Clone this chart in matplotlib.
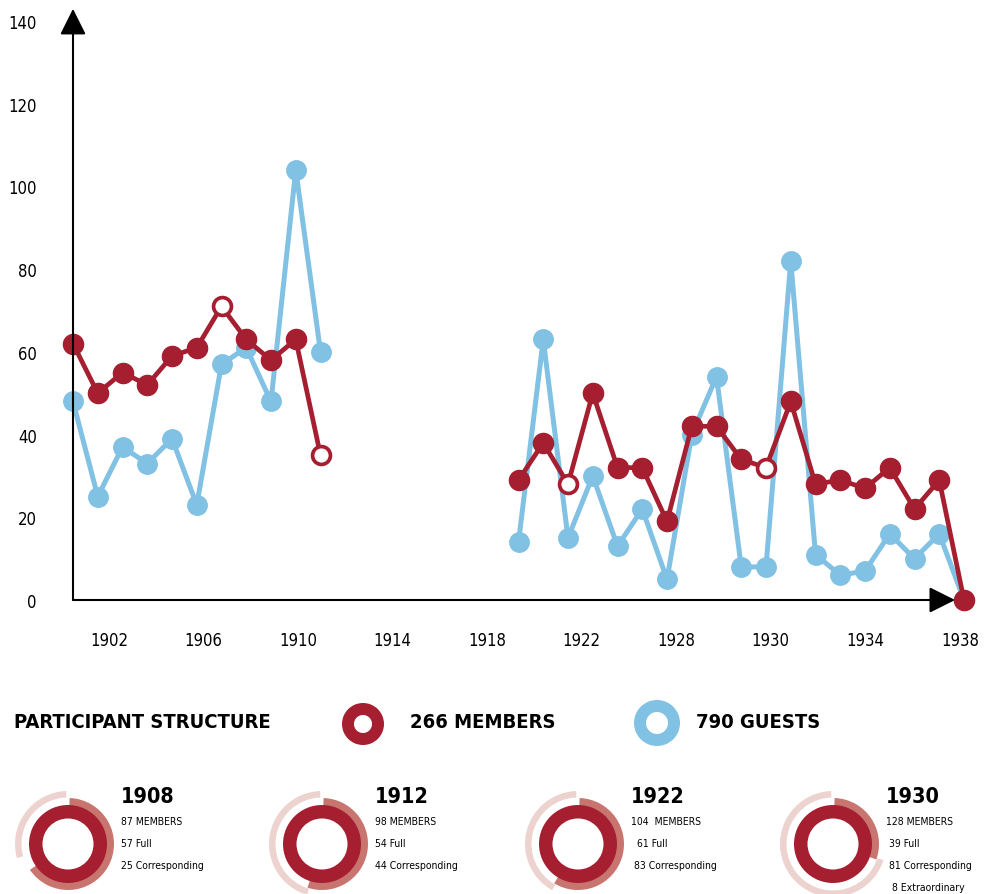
import numpy as np
import matplotlib.pyplot as plt
from matplotlib.patches import Wedge

# 数据：成员与来宾人数（两段，中间战争年份缺失）
members_early = [62, 50, 55, 52, 59, 61, 71, 63, 58, 63, 35]
guests_early = [48, 25, 37, 33, 39, 23, 57, 61, 48, 104, 60]
members_late = [29, 38, 28, 50, 32, 32, 19, 42, 42, 34, 32, 48, 28, 29, 27, 32, 22, 29, 0]
guests_late = [14, 63, 15, 30, 13, 22, 5, 40, 54, 8, 8, 82, 11, 6, 7, 16, 10, 16, 0]
open_early = [6, 10]   # 空心点
open_late = [2, 10]
year_labels = ['1902', '1906', '1910', '1914', '1918', '1922', '1928', '1930', '1934', '1938']
y_ticks = [0, 20, 40, 60, 80, 100, 120, 140]

legend_labels = ['266 MEMBERS', '790 GUESTS']
donut_years = ['1908', '1912', '1922', '1930']
donut_members = [87, 98, 104, 128]
donut_full = [57, 54, 61, 39]
donut_corr = [25, 44, 83, 81]
donut_extra = [0, 0, 0, 8]
donut_text = [
    ['87 MEMBERS', '57 Full', '25 Corresponding'],
    ['98 MEMBERS', '54 Full', '44 Corresponding'],
    ['104  MEMBERS', '  61 Full', ' 83 Corresponding'],
    ['128 MEMBERS', ' 39 Full', ' 81 Corresponding', '  8 Extraordinary'],
]

RED = '#A51F30'
BLUE = '#80C1E4'
MID = '#C9756F'
LIGHT = '#EDD3CF'

plt.rcParams['font.family'] = ['DejaVu Sans']
plt.rcParams['font.stretch'] = 'condensed'

W, H = 991, 895
fig = plt.figure(figsize=(W / 100, H / 100), dpi=100)
ax = fig.add_axes([73 / W, (H - 601) / H, 891 / W, 579 / H])
ax.set_xlim(0, 36)
ax.set_ylim(0, 140)
for s in ax.spines.values():
    s.set_visible(False)

x_early = np.arange(len(members_early))
x_late = np.arange(18, 18 + len(members_late))

for x, g in [(x_early, guests_early), (x_late, guests_late)]:
    ax.plot(x, g, color=BLUE, lw=3.6, marker='o', ms=14, mec=BLUE, clip_on=False, zorder=2)
for x, m, opn in [(x_early, members_early, open_early), (x_late, members_late, open_late)]:
    ax.plot(x, m, color=RED, lw=3.4, marker='o', ms=14.5, mec=RED, clip_on=False, zorder=3)
    ax.plot(x[opn], np.array(m)[opn], ls='none', marker='o', ms=12, mfc='white', mec=RED,
            mew=1.8, clip_on=False, zorder=4)

ax.set_yticks(y_ticks)
ax.set_yticklabels([str(v) for v in y_ticks], fontsize=12)
ax.set_xticks(np.linspace(1.45, 35.83, len(year_labels)))
ax.set_xticklabels(year_labels, fontsize=12)
ax.tick_params(axis='y', length=0, pad=26)
ax.tick_params(axis='x', length=0, pad=22)

arrow = dict(arrowstyle='-|>,head_length=0.4,head_width=0.2', color='black', lw=1.5,
             mutation_scale=40, shrinkA=0, shrinkB=0)
ax.annotate('', xy=(0, 1.021), xytext=(0, 0), xycoords='axes fraction', arrowprops=arrow)
ax.annotate('', xy=(0.99, 0), xytext=(0, 0), xycoords='axes fraction', arrowprops=arrow)

# 下方说明区域（像素坐标）
ov = fig.add_axes([0, 0, 1, 1])
ov.set_xlim(0, W)
ov.set_ylim(0, H)
ov.axis('off')


def ring(cx, cy, r, width, a1, a2, color):
    # 角度：从12点钟方向顺时针
    ov.add_patch(Wedge((cx, H - cy), r, 90 - a2, 90 - a1, width=width, color=color, lw=0))


ov.text(14, H - 723, 'PARTICIPANT STRUCTURE', fontsize=14.5, fontweight='bold', va='center')
ring(363, 725, 21, 12, 0, 360, RED)
ov.text(410, H - 723, legend_labels[0], fontsize=14.5, fontweight='bold', va='center')
ring(657, 724, 23, 12, 0, 360, BLUE)
ov.text(696, H - 723, legend_labels[1], fontsize=14.5, fontweight='bold', va='center')

centers = [68, 322, 578, 833]
for i, cx in enumerate(centers):
    cy = 845
    tot = donut_members[i]
    full_a = donut_full[i] / tot * 360
    light = min(donut_corr[i] + donut_extra[i], tot - donut_full[i])
    ring(cx, cy, 46, 8, 2, full_a, MID)
    ring(cx, cy, 53, 6.5, 358 - light / tot * 360, 358, LIGHT)
    ring(cx, cy, 39, 13.5, 0, 360, RED)
    tx = cx + 53
    ov.text(tx, H - 797, donut_years[i], fontsize=15.5, fontweight='bold', va='center')
    for j, line in enumerate(donut_text[i]):
        ov.text(tx, H - (822 + 22 * j), line, fontsize=7.5, va='center')

fig.savefig('out.png', dpi=100)
